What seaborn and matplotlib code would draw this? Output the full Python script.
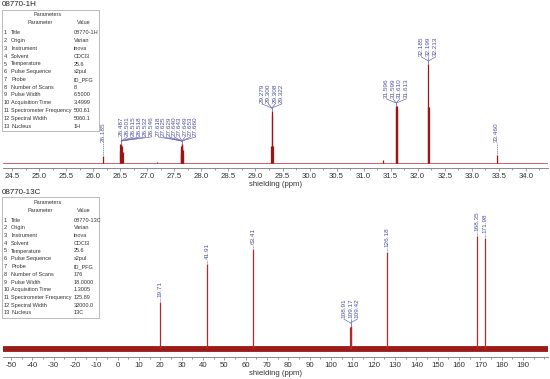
import matplotlib
matplotlib.use('Agg')
import matplotlib.pyplot as plt
import seaborn as sns
from matplotlib.lines import Line2D
from matplotlib.patches import Rectangle
from matplotlib.ticker import MultipleLocator, FixedLocator
from matplotlib.transforms import IdentityTransform

# ---- data: 1H spectrum (labelled multiplets) ----
h_ppm = [[26.185],
         [26.487, 26.501, 26.515, 26.518, 26.532, 26.546],
         [27.618, 27.625, 27.629, 27.640, 27.643, 27.649, 27.653, 27.660],
         [29.279, 29.300, 29.308, 29.322],
         [31.596, 31.599, 31.610, 31.613],
         [32.185, 32.199, 32.213],
         [33.460]]
h_height = [[7],
            [12, 19, 18, 19, 17, 11],
            [9, 14, 17, 19, 19, 16, 13, 9],
            [17, 52, 48, 17],
            [55, 57, 57, 54],
            [56, 99, 56],
            [8]]
h_labels = [['26.185'],
            ['26.487', '26.501', '26.515', '26.518', '26.532', '26.546'],
            ['27.618', '27.625', '27.629', '27.640', '27.643', '27.649', '27.653', '27.660'],
            ['29.279', '29.300', '29.308', '29.322'],
            ['31.596', '31.599', '31.610', '31.613'],
            ['32.185', '32.199', '32.213'],
            ['33.460']]
h_minor_ppm = [27.17, 31.35]
h_minor_height = [1, 3]

# ---- data: 13C spectrum ----
c_ppm = [[19.71], [41.91], [63.41], [108.91, 109.17, 109.42], [126.18], [168.35], [171.98]]
c_height = [[47], [85], [100], [22, 23, 22], [97], [113], [111]]
c_labels = [['19.71'], ['41.91'], ['63.41'], ['108.91', '109.17', '109.42'],
            ['126.18'], ['168.35'], ['171.98']]
c_ticks = list(range(-50, 200, 10))

# ---- data: parameter tables ----
param_names = ['Title', 'Origin', 'Instrument', 'Solvent', 'Temperature', 'Pulse Sequence',
               'Probe', 'Number of Scans', 'Pulse Width', 'Acquisition Time',
               'Spectrometer Frequency', 'Spectral Width', 'Nucleus']
values_1h = ['08770-1H', 'Varian', 'inova', 'CDCl3', '25.6', 's2pul', 'ID_PFG', '8',
             '6.5000', '3.4999', '500.61', '5060.1', '1H']
values_13c = ['08770-13C', 'Varian', 'inova', 'CDCl3', '25.6', 's2pul', 'ID_PFG', '176',
              '18.0000', '1.3005', '125.89', '32000.0', '13C']

sns.set_style('white')
plt.rcParams['font.family'] = ['Liberation Sans', 'DejaVu Sans']
plt.rcParams['axes.unicode_minus'] = False

W, H = 550, 379
fig = plt.figure(figsize=(5.5, 3.79), dpi=100)

LABEL_C = '#50509a'
LINK_C = '#6c6cb4'
TEXT_C = '#333333'


def px_axes(left, top, right, bottom):
    return fig.add_axes([left / W, 1 - bottom / H, (right - left) / W, (bottom - top) / H])


def style_axis(ax, xlim, ylim, major, minor):
    ax.set_xlim(*xlim)
    ax.set_ylim(*ylim)
    sns.despine(ax=ax, left=True)
    ax.spines['bottom'].set_color('#777777')
    ax.spines['bottom'].set_linewidth(0.6)
    ax.set_yticks([])
    ax.patch.set_alpha(0)
    ax.xaxis.set_major_locator(major)
    ax.xaxis.set_minor_locator(MultipleLocator(minor))
    ax.tick_params(axis='x', which='major', bottom=True, length=2.5, width=0.5, pad=1,
                   labelsize=5.6, colors='#777777', labelcolor=TEXT_C)
    ax.tick_params(axis='x', which='minor', bottom=True, length=1.5, width=0.5, colors='#777777')
    ax.set_xlabel('shielding (ppm)', fontsize=5.6, labelpad=1, color=TEXT_C)


def label_groups(ax, ppms, heights, labels, floor, shifts, spacings):
    floor_d = ax.transData.transform((0, floor))[1]
    for ppm, hts, labs, sh, sp in zip(ppms, heights, labels, shifts, spacings):
        xc = sum(ppm) / len(ppm)
        xd, yd = ax.transData.transform((xc, max(hts)))
        n = len(labs)
        gap = 5 if n == 1 else 8
        yb = max(yd + gap, floor_d)
        if n == 1:
            ax.add_line(Line2D([xd, xd], [yd + 1, yb - 1], transform=IdentityTransform(),
                               color=LINK_C, lw=0.5, ls=(0, (2, 1))))
            ax.text(xd, yb, labs[0], transform=IdentityTransform(), rotation=90,
                    ha='center', va='bottom', fontsize=4.6, color=LABEL_C)
            continue
        ax.add_line(Line2D([xd, xd], [yd, yd + 3], transform=IdentityTransform(),
                           color=LINK_C, lw=0.6))
        for i, lab in enumerate(labs):
            lx = xd + sh + (i - (n - 1) / 2) * sp
            ax.add_line(Line2D([xd, lx], [yd + 3, yb - 1], transform=IdentityTransform(),
                               color=LINK_C, lw=0.5))
            ax.text(lx, yb, lab, transform=IdentityTransform(), rotation=90,
                    ha='center', va='bottom', fontsize=4.6, color=LABEL_C)


def param_table(top, title, values):
    fig.text(2 / W, 1 - (top - 5) / H, title, fontsize=5.8, va='center', color='#222222')
    box = Rectangle((2 / W, 1 - (top + 121) / H), 97 / W, 121 / H, transform=fig.transFigure,
                    fc='white', ec='#b0b0b0', lw=0.6, zorder=5)
    fig.patches.append(box)
    kw = dict(fontsize=4.0, va='center', color=TEXT_C, zorder=6)
    fig.text(48 / W, 1 - (top + 5) / H, 'Parameters', ha='center', **kw)
    fig.text(40 / W, 1 - (top + 13) / H, 'Parameter', ha='center', **kw)
    fig.text(84 / W, 1 - (top + 13) / H, 'Value', ha='center', **kw)
    for i, (name, val) in enumerate(zip(param_names, values)):
        y = 1 - (top + 23 + 7.75 * i) / H
        fig.text(4 / W, y, str(i + 1), **kw)
        fig.text(11 / W, y, name, **kw)
        fig.text(73.5 / W, y, val, **kw)


# ---- top: 1H ----
ax1 = px_axes(3, 20, 548, 168)
style_axis(ax1, (24.33, 34.41), (-5, 143), MultipleLocator(0.5), 0.25)
ax1.axhline(0, color='#c86464', lw=0.7)
for ppm, hts in zip(h_ppm, h_height):
    ax1.vlines(ppm, 0, hts, color='#9e1414', lw=0.9)
ax1.vlines(h_minor_ppm, 0, h_minor_height, color='#9e1414', lw=0.9)
label_groups(ax1, h_ppm, h_height, h_labels, floor=21,
             shifts=[0, 15, -5, 0, 0, 0, 0], spacings=[6, 6, 5.3, 6.5, 6.5, 7, 6])

# ---- bottom: 13C ----
ax2 = px_axes(3, 200, 548, 357)
style_axis(ax2, (-53.75, 201.7), (-8, 149), FixedLocator(c_ticks), 5)
ax2.axhline(0, color='#9b1b1b', lw=4.2)
for ppm, hts in zip(c_ppm, c_height):
    ax2.vlines(ppm, 0, hts, color='#b02a2a', lw=0.9)
label_groups(ax2, c_ppm, c_height, c_labels, floor=0,
             shifts=[0] * len(c_ppm), spacings=[6.8] * len(c_ppm))

param_table(10, '08770-1H', values_1h)
param_table(197, '08770-13C', values_13c)

fig.savefig('out.png', dpi=100, facecolor='white')
